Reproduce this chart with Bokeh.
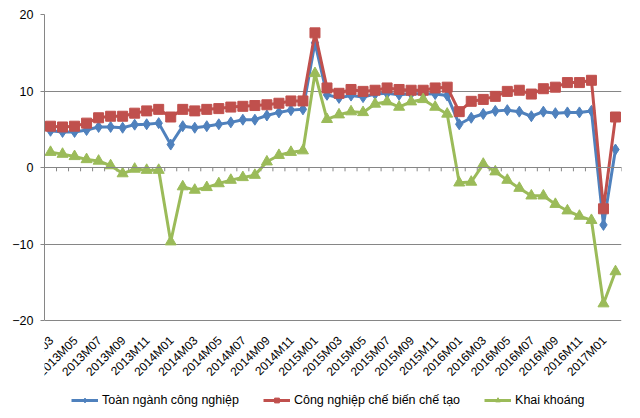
from bokeh.plotting import figure
from bokeh.models import Range1d, FixedTicker, Legend, LegendItem, Span, ColumnDataSource, LabelSet
from bokeh.core.properties import value
from bokeh.embed import file_html
from bokeh.resources import INLINE
import numpy as np

months = ["2013M03","2013M04","2013M05","2013M06","2013M07","2013M08","2013M09","2013M10","2013M11","2013M12",
          "2014M01","2014M02","2014M03","2014M04","2014M05","2014M06","2014M07","2014M08","2014M09","2014M10","2014M11","2014M12",
          "2015M01","2015M02","2015M03","2015M04","2015M05","2015M06","2015M07","2015M08","2015M09","2015M10","2015M11","2015M12",
          "2016M01","2016M02","2016M03","2016M04","2016M05","2016M06","2016M07","2016M08","2016M09","2016M10","2016M11","2016M12",
          "2017M01","2017M02"]

toan_nganh = [4.8,4.65,4.65,4.9,5.3,5.3,5.2,5.6,5.65,5.8,3.0,5.4,5.2,5.4,5.65,5.9,6.25,6.25,6.8,7.2,7.5,7.6,
              16.3,9.5,9.1,9.4,9.2,9.6,9.7,9.5,9.65,9.65,9.6,9.4,5.65,6.5,7.0,7.4,7.5,7.3,6.7,7.3,7.1,7.2,7.2,7.4,-7.5,2.35]
che_bien = [5.4,5.3,5.4,5.8,6.5,6.7,6.7,7.1,7.4,7.6,6.6,7.6,7.4,7.6,7.7,7.9,8.0,8.1,8.2,8.4,8.7,8.7,
            17.6,10.4,9.7,10.2,9.95,10.1,10.4,10.2,10.1,10.1,10.4,10.5,7.3,8.65,8.9,9.3,9.95,10.1,9.6,10.3,10.5,11.1,11.1,11.4,-5.4,6.6]
khai_khoang = [2.0,1.75,1.45,1.05,0.85,0.25,-0.8,-0.2,-0.35,-0.35,-9.7,-2.5,-2.95,-2.6,-2.1,-1.65,-1.3,-1.0,0.75,1.6,2.0,2.2,
               12.3,6.3,6.9,7.3,7.2,8.3,8.6,7.9,8.6,8.9,7.9,7.0,-2.0,-1.9,0.45,-0.55,-1.65,-2.7,-3.7,-3.7,-4.8,-5.65,-6.35,-6.9,-17.8,-13.6]

series_names = ["Toàn ngành công nghiệp", "Công nghiệp chế biến chế tạo", "Khai khoáng"]
y_ticks = [-20, -10, 0, 10, 20]

n = len(months)
x = [i + 0.5 for i in range(n)]
FONT = "Liberation Sans"
GRID = "#868686"

# layout: plot area 306 px tall for the value range, with 98 px of room below for labels and legend
PLOT_H = 306
EXTRA_H = 98
px_per_unit = PLOT_H / (y_ticks[-1] - y_ticks[0])
y_bottom = y_ticks[0] - EXTRA_H / px_per_unit

p = figure(frame_width=577, frame_height=PLOT_H + EXTRA_H, output_backend="svg", toolbar_location=None,
           x_range=Range1d(0, n), y_range=Range1d(y_bottom, y_ticks[-1]),
           min_border_left=44, min_border_right=19, min_border_top=14, min_border_bottom=0)
p.outline_line_color = None
p.background_fill_color = "white"
p.xaxis.visible = False

# grid
p.xgrid.visible = False
p.ygrid.ticker = FixedTicker(ticks=y_ticks)
p.ygrid.grid_line_color = GRID
p.ygrid.grid_line_width = 1

# y axis
p.yaxis.ticker = FixedTicker(ticks=y_ticks)
p.yaxis.bounds = (y_ticks[0], y_ticks[-1])
p.yaxis.axis_line_color = GRID
p.yaxis.major_tick_line_color = GRID
p.yaxis.major_tick_out = 4
p.yaxis.major_tick_in = 0
p.yaxis.minor_tick_line_color = None
p.yaxis.major_label_standoff = 7
p.yaxis.major_label_text_font = FONT
p.yaxis.major_label_text_font_size = "12.5px"
p.yaxis.major_label_text_color = "#000000"

# category labels (every other month), rotated, below the plot area
lab_idx = list(range(0, n, 2))
lab_src = ColumnDataSource(dict(
    x=[x[i] + 1.0 / 12.0 for i in lab_idx],
    y=[y_ticks[0] - 18 / px_per_unit] * len(lab_idx),
    text=[months[i] for i in lab_idx]))
labels = LabelSet(x="x", y="y", text="text", source=lab_src, angle=np.pi / 4,
                  text_align="right", text_baseline="middle",
                  text_font=value(FONT), text_font_size="12px", text_color="#000000")
p.add_layout(labels)

# zero axis line with category boundary ticks
p.add_layout(Span(location=0, dimension="width", line_color=GRID, line_width=1))
bounds = list(range(n + 1))
p.segment(x0=bounds, y0=[0] * len(bounds), x1=bounds, y1=[-0.5] * len(bounds), line_color=GRID, line_width=1)

colors = ["#4F81BD", "#C0504D", "#9BBB59"]
markers = ["diamond", "square", "triangle"]
sizes = [11, 10, 11]
data = [toan_nganh, che_bien, khai_khoang]

items = []
for name, ys, c, m, s in zip(series_names, data, colors, markers, sizes):
    l = p.line(x, ys, line_color=c, line_width=3)
    sc = p.scatter(x, ys, marker=m, size=s, fill_color=c, line_color=c)
    items.append(LegendItem(label=name, renderers=[l, sc]))

legend = Legend(items=items, orientation="horizontal", location=(27, 11),
                border_line_color=None, background_fill_alpha=0,
                label_text_font=FONT, label_text_font_size="12.5px", label_text_color="#000000",
                glyph_width=27, glyph_height=12, label_standoff=4, spacing=24, padding=4, margin=0)
p.add_layout(legend, "center")

open("out.html", "w").write(file_html(p, INLINE))
